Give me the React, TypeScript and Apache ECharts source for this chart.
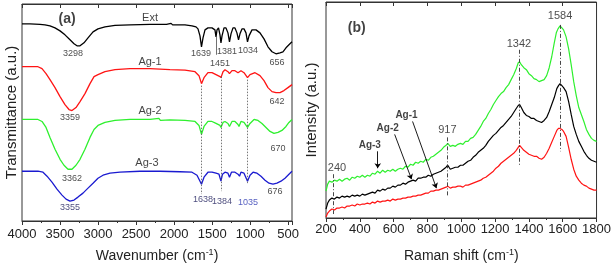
import React, { useEffect, useRef } from "react";
import * as echarts from "echarts";

// ---------- FTIR (panel a): [wavenumber cm-1, transmittance (a.u., offset)] ----------
const ftirExt: [number, number][] = [
  [4000, 198], [3895, 198], [3763, 197.5], [3698, 197], [3632, 196], [3566, 194], [3500, 191],
  [3435, 187], [3369, 182], [3316, 178], [3277, 176], [3237, 176], [3185, 179], [3132, 184],
  [3066, 190], [3001, 193], [2909, 195], [2777, 196.5], [2580, 197], [2317, 197.5], [2100, 197.5],
  [2040, 198.5], [2020, 197], [1857, 197], [1765, 196], [1712, 195], [1686, 193], [1660, 186],
  [1640, 175], [1620, 184], [1594, 192], [1555, 194], [1502, 194], [1463, 192], [1449, 185],
  [1436, 192], [1416, 194], [1397, 187], [1384, 179], [1370, 186], [1344, 194], [1318, 194],
  [1292, 189], [1272, 180], [1252, 188], [1226, 194], [1200, 194], [1174, 189], [1153, 182],
  [1134, 188], [1108, 193], [1081, 193], [1055, 189], [1035, 180], [1015, 186], [976, 192],
  [923, 192], [871, 189], [818, 183], [766, 175], [713, 170], [661, 168], [608, 169], [569, 170],
  [529, 174], [490, 177], [450, 180],
];
const ftirAg1: [number, number][] = [
  [4000, 155], [3895, 155], [3790, 155], [3737, 153], [3684, 148], [3632, 142], [3566, 134],
  [3500, 125], [3435, 117], [3382, 112], [3343, 111], [3290, 114], [3237, 120], [3172, 128],
  [3106, 138], [3053, 145], [3001, 147], [2909, 150], [2777, 152], [2580, 153], [2317, 153],
  [2054, 152], [1857, 151.5], [1725, 150], [1673, 146], [1640, 138], [1607, 144], [1555, 149],
  [1502, 149], [1449, 147], [1397, 145], [1384, 144], [1357, 150], [1331, 152], [1292, 150],
  [1272, 148], [1239, 151], [1200, 151], [1160, 149], [1121, 151], [1081, 149], [1035, 144],
  [1002, 147], [936, 149], [871, 146], [818, 141], [766, 134], [713, 130], [661, 129], [608, 129],
  [556, 131], [503, 134], [450, 137],
];
const ftirAg2: [number, number][] = [
  [4000, 102], [3895, 102], [3790, 102], [3737, 100], [3684, 94], [3632, 84], [3566, 72],
  [3500, 62], [3448, 56], [3395, 52], [3343, 52], [3290, 56], [3237, 62], [3172, 72], [3106, 84],
  [3053, 92], [3001, 96], [2909, 99], [2777, 101], [2580, 102], [2317, 102], [2200, 103],
  [2180, 101], [2054, 101.5], [1857, 101], [1725, 100], [1673, 96], [1640, 87], [1607, 95],
  [1555, 100], [1502, 100], [1449, 98], [1397, 96], [1384, 94], [1357, 99], [1331, 100],
  [1292, 98], [1272, 95], [1239, 100], [1200, 100], [1160, 97], [1147, 95], [1121, 100],
  [1081, 99], [1035, 94], [1002, 98], [949, 102], [897, 101], [845, 98], [792, 94], [739, 90],
  [687, 88], [634, 89], [582, 91], [529, 95], [490, 99], [450, 102],
];
const ftirAg3: [number, number][] = [
  [4000, 50], [3895, 50], [3790, 50], [3724, 49], [3671, 45], [3606, 39], [3540, 32], [3474, 26],
  [3421, 22], [3369, 20], [3316, 21], [3264, 24], [3198, 28], [3132, 33], [3066, 38], [3001, 43],
  [2935, 46], [2843, 48], [2712, 49], [2449, 50], [2186, 50], [1923, 49.5], [1765, 49],
  [1699, 46], [1640, 37], [1607, 44], [1555, 49], [1502, 49], [1449, 48], [1410, 47], [1384, 40],
  [1364, 47], [1331, 49], [1292, 48], [1272, 44], [1246, 49], [1200, 49], [1160, 47], [1140, 45],
  [1121, 49], [1081, 48], [1035, 40], [1002, 46], [962, 49], [910, 48], [858, 45], [805, 41],
  [752, 38], [700, 37], [648, 38], [595, 40], [542, 43], [490, 47], [450, 50],
];

// FTIR annotations: [text, wavenumber, y]
const ftirLabels: [string, number, number][] = [
  ["Ext", 2317, 205], ["3298", 3330, 169], ["1639", 1647, 169], ["1451", 1397, 159],
  ["1381", 1305, 171], ["1034", 1029, 172], ["656", 647, 160],
  ["Ag-1", 2317, 161], ["3359", 3369, 104], ["642", 647, 121],
  ["Ag-2", 2317, 112], ["3362", 3343, 43], ["670", 634, 73],
  ["Ag-3", 2357, 59], ["3355", 3369, 14], ["1638", 1620, 22], ["1384", 1370, 20],
  ["1035", 1029, 19], ["676", 674, 30],
];
// dotted guide lines: [wavenumber, yFrom, yTo]
const ftirGuides: [number, number, number][] = [
  [1640, 136, 27], [1386, 145, 30], [1037, 142, 37],
];

// ---------- Raman (panel b): [Raman shift cm-1, intensity (a.u., offset)] ----------
const ramanAg3: [number, number][] = [
  [200, 27], [210, 34], [220, 37], [235, 36], [250, 38], [265, 37], [280, 39], [295, 37], [310, 39],
  [325, 40], [340, 38], [355, 41], [370, 40], [385, 42], [400, 41], [415, 43], [430, 41], [445, 43],
  [460, 42], [475, 45], [490, 44], [505, 47], [520, 45], [535, 48], [550, 46], [565, 48], [580, 47],
  [595, 49], [610, 47], [625, 49], [640, 50], [655, 49], [670, 52], [685, 51], [700, 54], [715, 53],
  [730, 56], [745, 55], [760, 57], [775, 56], [790, 59], [805, 58], [820, 61], [835, 62], [850, 64],
  [865, 66], [880, 68], [895, 71], [910, 73], [920, 75], [935, 72], [950, 73], [965, 72], [980, 74],
  [995, 75], [1010, 74], [1025, 77], [1040, 77], [1055, 80], [1070, 81], [1085, 84], [1100, 88],
  [1115, 92], [1130, 97], [1145, 100], [1160, 105], [1175, 109], [1190, 114], [1205, 118],
  [1220, 122], [1235, 125], [1250, 127], [1265, 131], [1280, 134], [1295, 139], [1310, 144],
  [1325, 150], [1337, 156], [1345, 157], [1355, 154], [1370, 151], [1385, 149], [1400, 145],
  [1415, 143], [1430, 140], [1445, 139], [1460, 137], [1475, 138], [1490, 139], [1505, 143],
  [1520, 151], [1535, 162], [1550, 176], [1562, 186], [1572, 190], [1584, 193], [1595, 191],
  [1605, 189], [1620, 182], [1635, 170], [1650, 154], [1665, 137], [1680, 123], [1695, 111],
  [1710, 104], [1725, 97], [1740, 89], [1755, 84], [1770, 80], [1785, 78], [1800, 77],
];
const ramanAg2: [number, number][] = [
  [200, 9], [210, 15], [220, 18], [235, 20], [250, 19], [265, 21], [280, 20], [295, 22], [310, 21],
  [325, 22], [340, 21], [355, 23], [370, 22], [385, 23], [400, 22], [415, 24], [430, 23], [445, 24],
  [460, 25], [475, 26], [490, 25], [505, 28], [520, 27], [535, 29], [550, 28], [565, 30], [580, 30],
  [595, 32], [610, 31], [625, 33], [640, 33], [655, 35], [670, 34], [685, 36], [700, 37], [715, 38],
  [730, 37], [745, 40], [760, 40], [775, 41], [790, 41], [805, 43], [820, 42], [835, 44], [850, 45],
  [865, 46], [880, 47], [895, 49], [910, 51], [920, 53], [935, 49], [950, 50], [965, 51], [980, 51],
  [995, 53], [1010, 53], [1025, 55], [1040, 57], [1055, 58], [1070, 61], [1085, 63], [1100, 66],
  [1115, 68], [1130, 70], [1145, 73], [1160, 77], [1175, 80], [1190, 83], [1205, 85], [1220, 88],
  [1235, 91], [1250, 93], [1265, 96], [1280, 99], [1295, 102], [1310, 106], [1325, 110],
  [1337, 113], [1345, 114], [1355, 111], [1370, 106], [1385, 103], [1400, 102], [1415, 100],
  [1430, 100], [1445, 98], [1460, 97], [1475, 96], [1490, 98], [1505, 101], [1520, 107],
  [1535, 114], [1550, 121], [1565, 130], [1575, 133], [1584, 135], [1595, 133], [1605, 131],
  [1620, 127], [1635, 117], [1650, 104], [1665, 92], [1680, 84], [1695, 77], [1710, 72],
  [1725, 67], [1740, 63], [1755, 60], [1770, 58], [1785, 57], [1800, 56],
];
const ramanAg1: [number, number][] = [
  [200, 1], [210, 5], [220, 7], [235, 9], [250, 8], [265, 10], [280, 10], [295, 11], [310, 10],
  [325, 12], [340, 12], [355, 13], [370, 12], [385, 14], [400, 13], [415, 14], [430, 14], [445, 15],
  [460, 14], [475, 16], [490, 15], [505, 17], [520, 16], [535, 17], [550, 17], [565, 18], [580, 17],
  [595, 19], [610, 18], [625, 19], [640, 19], [655, 20], [670, 20], [685, 21], [700, 21], [715, 22],
  [730, 22], [745, 23], [760, 23], [775, 24], [790, 25], [805, 25], [820, 27], [835, 27], [850, 28],
  [865, 28], [880, 29], [895, 30], [910, 31], [920, 32], [935, 30], [950, 31], [965, 31], [980, 32],
  [995, 32], [1010, 31], [1025, 33], [1040, 33], [1055, 34], [1070, 35], [1085, 36], [1100, 37],
  [1115, 38], [1130, 40], [1145, 41], [1160, 43], [1175, 45], [1190, 47], [1205, 50], [1220, 52],
  [1235, 55], [1250, 57], [1265, 59], [1280, 61], [1295, 63], [1310, 65], [1325, 68], [1337, 71],
  [1345, 73], [1355, 71], [1370, 68], [1385, 66], [1400, 64], [1415, 63], [1430, 62], [1445, 62],
  [1460, 60], [1475, 59], [1490, 61], [1505, 65], [1520, 70], [1535, 76], [1550, 82], [1565, 88],
  [1575, 90], [1584, 90], [1595, 89], [1605, 87], [1620, 82], [1635, 71], [1650, 59], [1665, 49],
  [1680, 42], [1695, 38], [1710, 35], [1725, 33], [1740, 32], [1755, 30], [1770, 29], [1785, 28],
  [1800, 28],
];
// Raman peak labels: [text, shift, y]
const ramanLabels: [string, number, number][] = [
  ["1584", 1584, 204], ["1342", 1341, 176], ["917", 918, 89], ["240", 265, 51],
];
const ramanGuides: [number, number, number][] = [
  [1584, 194, 67], [1342, 169, 52], [917, 81, 22], [240, 44, 4],
];
// sample labels with arrows: [text, labelX, labelY, fromX, fromY, toX, toY]
const ramanSamples: [string, number, number, number, number, number, number][] = [
  ["Ag-1", 676, 104, 712, 97, 853, 30],
  ["Ag-2", 565, 91, 606, 84, 706, 39],
  ["Ag-3", 459, 74, 506, 67, 506, 50],
];

const FONT = "'Liberation Sans', Arial, sans-serif";

export default function App() {
  const ref = useRef<HTMLDivElement>(null);
  useEffect(() => {
    const chart = echarts.init(ref.current!, null, { renderer: "svg" });
    const neg = (d: [number, number][]) => d.map(([w, v]) => [-w, v]);
    const nameRich = {
      sup: { fontSize: 9, verticalAlign: "top", padding: [0, 0, 7, 0], color: "#222", fontFamily: FONT },
    };
    const tickStyle = { color: "#333", width: 1 };
    const lineBase = { type: "line", showSymbol: false, symbol: "none", animation: false, silent: true };
    const dark = "#333";
    const ftirLabelColor = (t: string) =>
      t === "1035" ? "#2a36b0" : ["3355", "1638", "1384"].includes(t) ? "#1c1c5a" : "#222";

    chart.setOption({
      animation: false,
      textStyle: { fontFamily: FONT },
      grid: [
        { left: 22, right: 322, top: 4, bottom: 45, show: true, borderColor: dark, borderWidth: 1, backgroundColor: "transparent" },
        { left: 326, right: 16, top: 2, bottom: 48, show: true, borderColor: dark, borderWidth: 1, backgroundColor: "transparent" },
      ],
      xAxis: [
        {
          gridIndex: 0, type: "value", min: -4000, max: -450, interval: 500,
          axisLine: { show: true, onZero: false, lineStyle: { color: dark } },
          axisTick: { show: true, length: 4, lineStyle: tickStyle },
          minorTick: { show: true, splitNumber: 2, length: 2, lineStyle: tickStyle },
          splitLine: { show: false },
          axisLabel: { formatter: (v: number) => String(-v), fontSize: 13, color: "#222", margin: 6, showMaxLabel: false },
          name: "Wavenumber (cm{sup|-1})", nameLocation: "middle", nameGap: 26,
          nameTextStyle: { fontSize: 14, color: "#222", rich: nameRich },
        },
        {
          gridIndex: 0, type: "value", min: -4000, max: -450, interval: 500, position: "top",
          axisLine: { show: true, onZero: false, lineStyle: { color: dark } },
          axisTick: { show: true, inside: true, length: 4, lineStyle: tickStyle },
          minorTick: { show: false },
          splitLine: { show: false }, axisLabel: { show: false },
        },
        {
          gridIndex: 1, type: "value", min: 200, max: 1800, interval: 200,
          axisLine: { show: true, onZero: false, lineStyle: { color: dark } },
          axisTick: { show: true, length: 4, lineStyle: tickStyle },
          minorTick: { show: true, splitNumber: 2, length: 2, lineStyle: tickStyle },
          splitLine: { show: false },
          axisLabel: { formatter: (v: number) => String(v), fontSize: 13, color: "#222", margin: 4 },
          name: "Raman shift (cm{sup|-1})", nameLocation: "middle", nameGap: 29,
          nameTextStyle: { fontSize: 14, color: "#222", rich: nameRich },
        },
        {
          gridIndex: 1, type: "value", min: 200, max: 1800, interval: 200, position: "top",
          axisLine: { show: true, onZero: false, lineStyle: { color: dark } },
          axisTick: { show: true, inside: true, length: 4, lineStyle: tickStyle },
          splitLine: { show: false }, axisLabel: { show: false },
        },
      ],
      yAxis: [
        {
          gridIndex: 0, type: "value", min: 0, max: 218,
          axisLine: { show: false }, axisTick: { show: false }, axisLabel: { show: false }, splitLine: { show: false },
          name: "Transmittance (a.u.)", nameLocation: "middle", nameGap: 4,
          nameTextStyle: { fontSize: 15, color: "#222" },
        },
        {
          gridIndex: 1, type: "value", min: 0, max: 217,
          axisLine: { show: false }, axisTick: { show: false }, axisLabel: { show: false }, splitLine: { show: false },
          name: "Intensity (a.u.)", nameLocation: "middle", nameGap: 8,
          nameTextStyle: { fontSize: 15, color: "#222" },
        },
      ],
      series: [
        {
          ...lineBase, name: "Ext", xAxisIndex: 0, yAxisIndex: 0, data: neg(ftirExt),
          lineStyle: { color: "#000", width: 1.3 },
          markLine: {
            silent: true, symbol: "none", label: { show: false },
            lineStyle: { color: "#555", width: 0.8, type: [1.5, 1.5] },
            data: ftirGuides.map(([w, a, b]) => [{ coord: [-w, a] }, { coord: [-w, b] }]).concat([
              [{ coord: [-1449, 185], lineStyle: { color: "#333", width: 0.7, type: "solid" } } as any, { coord: [-1449, 167] }],
            ]),
          },
        },
        { ...lineBase, name: "Ag-1", xAxisIndex: 0, yAxisIndex: 0, data: neg(ftirAg1), lineStyle: { color: "#ff1414", width: 1.3 } },
        { ...lineBase, name: "Ag-2", xAxisIndex: 0, yAxisIndex: 0, data: neg(ftirAg2), lineStyle: { color: "#2ef02e", width: 1.3 } },
        { ...lineBase, name: "Ag-3", xAxisIndex: 0, yAxisIndex: 0, data: neg(ftirAg3), lineStyle: { color: "#1a1ad0", width: 1.3 } },
        {
          type: "scatter", xAxisIndex: 0, yAxisIndex: 0, symbolSize: 0, silent: true, z: 10,
          itemStyle: { color: "transparent" },
          label: { show: true, position: "inside", fontSize: 9, color: "#222", formatter: "{b}" },
          data: ftirLabels.map(([t, w, y]) => ({
            name: t, value: [-w, y],
            label: t.startsWith("Ag") || t === "Ext"
              ? { fontSize: 11, color: "#111" }
              : { color: ftirLabelColor(t) },
          })).concat([{ name: "(a)", value: [-3408, 204], label: { fontSize: 14, fontWeight: "bold", color: "#111" } } as any]),
        },
        {
          ...lineBase, name: "R-Ag-3", xAxisIndex: 2, yAxisIndex: 1, data: ramanAg3,
          lineStyle: { color: "#2ef02e", width: 1.2 },
          markLine: {
            silent: true, symbol: "none", label: { show: false },
            lineStyle: { color: "#333", width: 0.9, type: [4, 2, 1, 2] },
            data: ramanGuides.map(([x, a, b]) => [{ coord: [x, a] }, { coord: [x, b] }]),
          },
        },
        {
          ...lineBase, name: "R-Ag-2", xAxisIndex: 2, yAxisIndex: 1, data: ramanAg2,
          lineStyle: { color: "#000", width: 1.2 },
          markLine: {
            silent: true, symbol: ["none", "arrow"], symbolSize: 5, label: { show: false },
            lineStyle: { color: "#000", width: 0.9, type: "solid" },
            data: ramanSamples.map(([, , , x1, y1, x2, y2]) => [{ coord: [x1, y1] }, { coord: [x2, y2] }]),
          },
        },
        { ...lineBase, name: "R-Ag-1", xAxisIndex: 2, yAxisIndex: 1, data: ramanAg1, lineStyle: { color: "#ff1414", width: 1.2 } },
        {
          type: "scatter", xAxisIndex: 2, yAxisIndex: 1, symbolSize: 0, silent: true, z: 10,
          itemStyle: { color: "transparent" },
          label: { show: true, position: "inside", fontSize: 11, color: "#222", formatter: "{b}" },
          data: ramanLabels.map(([t, x, y]) => ({ name: t, value: [x, y] }))
            .concat(ramanSamples.map(([t, x, y]) => ({ name: t, value: [x, y], label: { fontSize: 10, fontWeight: "bold", color: "#111" } } as any)))
            .concat([{ name: "(b)", value: [382, 192], label: { fontSize: 14, fontWeight: "bold", color: "#111" } } as any]),
        },
      ],
    });
    return () => chart.dispose();
  }, []);
  return <div ref={ref} style={{ position: "fixed", left: 0, top: 0, width: 614, height: 267 }} />;
}
